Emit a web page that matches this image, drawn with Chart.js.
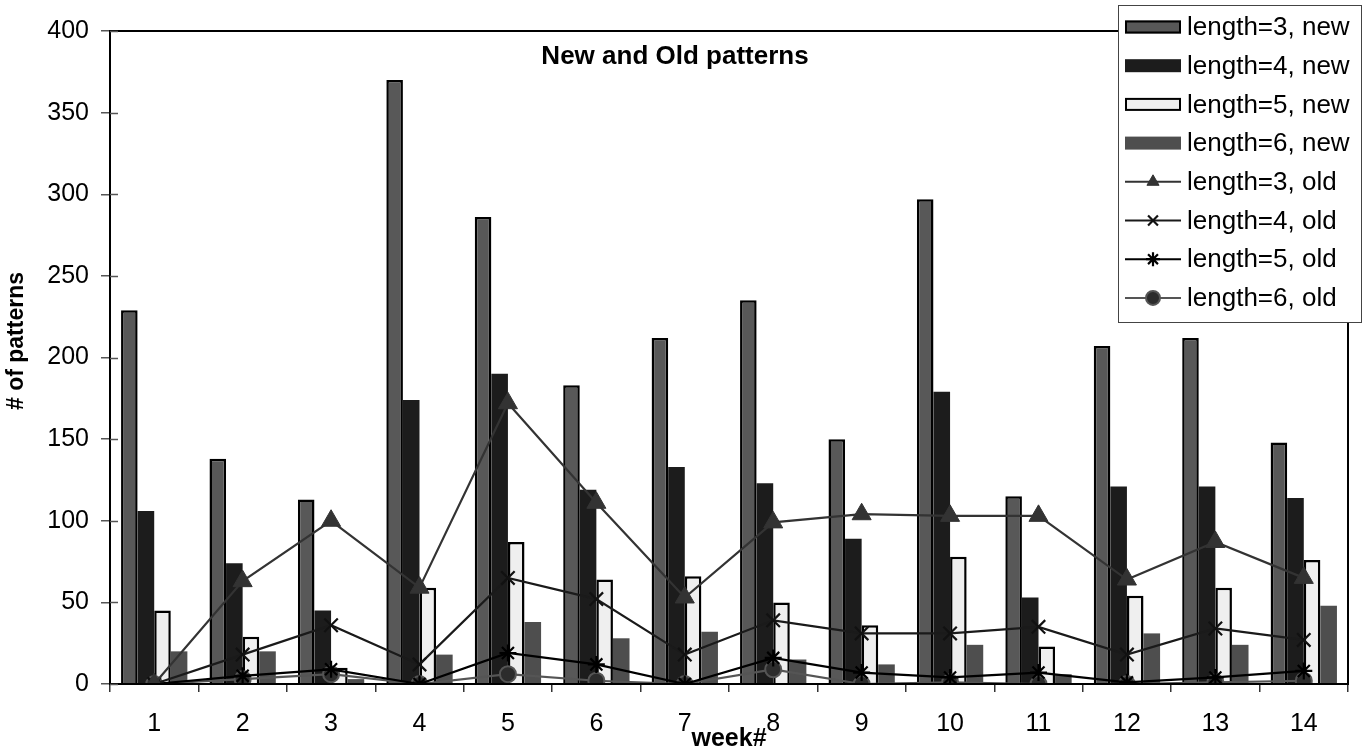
<!DOCTYPE html>
<html>
<head>
<meta charset="utf-8">
<title>New and Old patterns</title>
<script src="https://cdn.jsdelivr.net/npm/chart.js@4.4.0/dist/chart.umd.min.js"></script>
<style>
    html, body { margin: 0; padding: 0; background: #fff; }
    #wrap { width: 1369px; height: 754px; }
</style>
</head>
<body>
<div id="wrap"><canvas id="patternChart" width="1369" height="754"></canvas></div>
<script>
// week labels on the x axis
const weeks = ['1', '2', '3', '4', '5', '6', '7', '8', '9', '10', '11', '12', '13', '14'];
const yTicks = [0, 50, 100, 150, 200, 250, 300, 350, 400];

// new patterns (bars)
const len3New = [229, 138, 113, 370, 286, 183, 212, 235, 150, 297, 115, 207, 212, 148];
const len4New = [106, 74, 45, 174, 190, 119, 133, 123, 89, 179, 53, 121, 121, 114];
const len5New = [45, 29, 10, 59, 87, 64, 66, 50, 36, 78, 23, 54, 59, 76];
const len6New = [20, 20, 3, 18, 38, 28, 32, 15, 12, 24, 6, 31, 24, 48];

// old patterns (lines)
const len3Old = [0, 63, 100, 59, 172, 111, 53, 99, 104, 103, 103, 64, 87, 65];
const len4Old = [0, 18, 36, 12, 65, 52, 18, 39, 31, 31, 35, 18, 34, 27];
const len5Old = [0, 5, 9, 0, 19, 12, 0, 16, 7, 4, 7, 1, 4, 8];
const len6Old = [0, 3, 6, 0, 6, 2, 0, 9, 0, 1, 0, 0, 1, 2];

const FONT = '"Liberation Sans", Arial, Helvetica, sans-serif';

function barSet(label, data, fill, border, bw) {
    return {
        type: 'bar', label, data, order: 1,
        backgroundColor: fill, borderColor: border, borderWidth: bw,
        categoryPercentage: 0.75, barPercentage: 1.0
    };
}

function lineSet(label, data, color, style, radius, pointFill, pointBorder, pbw) {
    return {
        type: 'line', label, data, order: 0,
        borderColor: color, borderWidth: 2.2, fill: false, tension: 0,
        pointStyle: style, pointRadius: radius, pointHoverRadius: radius,
        pointBackgroundColor: pointFill, pointBorderColor: pointBorder, pointBorderWidth: pbw
    };
}

// frame around the plot, inner tick marks, chart title and y title
const plotFrame = {
    id: 'plotFrame',
    afterDatasetsDraw(chart) {
        const { ctx, chartArea: a, scales } = chart;
        ctx.save();
        ctx.strokeStyle = '#000';
        ctx.lineWidth = 2;
        ctx.strokeRect(a.left, a.top, a.right - a.left, a.bottom - a.top);
        ctx.strokeStyle = '#555';
        ctx.lineWidth = 1.5;
        scales.y.ticks.forEach(t => {
            const py = Math.round(scales.y.getPixelForValue(t.value)) + 0.5;
            ctx.beginPath();
            ctx.moveTo(a.left, py);
            ctx.lineTo(a.left + 8, py);
            ctx.stroke();
        });
        ctx.fillStyle = '#000';
        ctx.font = 'bold 26px ' + FONT;
        ctx.textAlign = 'center';
        ctx.textBaseline = 'middle';
        ctx.fillText('New and Old patterns', 675, 57);

        ctx.translate(17, 341);
        ctx.rotate(-Math.PI / 2);
        ctx.font = 'bold 23px ' + FONT;
        ctx.fillText('# of patterns', 0, 0);
        ctx.restore();
    }
};

// legend box drawn over the top right corner of the plot
const legendBox = {
    id: 'legendBox',
    afterDraw(chart) {
        const ctx = chart.ctx;
        const bx = 1118, by = 5, bw = 243, bh = 317;
        ctx.save();
        ctx.fillStyle = '#fff';
        ctx.fillRect(bx, by, bw, bh);
        ctx.strokeStyle = '#444';
        ctx.lineWidth = 1;
        ctx.strokeRect(bx + 0.5, by + 0.5, bw, bh);

        chart.data.datasets.forEach((ds, i) => {
            const y = 27 + i * 38.7;
            if (ds.type === 'line') {
                ctx.strokeStyle = ds.borderColor;
                ctx.lineWidth = 2;
                ctx.beginPath();
                ctx.moveTo(1125, y);
                ctx.lineTo(1181, y);
                ctx.stroke();
                ctx.fillStyle = ds.pointBackgroundColor;
                ctx.strokeStyle = ds.pointBorderColor;
                ctx.lineWidth = ds.pointBorderWidth;
                Chart.helpers.drawPoint(ctx, {
                    pointStyle: ds.pointStyle, rotation: 0,
                    radius: Math.min(ds.pointRadius, 7), borderWidth: ds.pointBorderWidth
                }, 1153, y);
            } else {
                ctx.fillStyle = ds.backgroundColor;
                ctx.fillRect(1125, y - 6.5, 56, 13);
                if (ds.borderWidth > 0) {
                    ctx.strokeStyle = ds.borderColor;
                    ctx.lineWidth = 2;
                    ctx.strokeRect(1126, y - 5.5, 54, 11);
                }
            }
            ctx.fillStyle = '#000';
            ctx.font = '26px ' + FONT;
            ctx.textAlign = 'left';
            ctx.textBaseline = 'middle';
            ctx.fillText(ds.label, 1187, y + 1);
        });
        ctx.restore();
    }
};

const ctx = document.getElementById('patternChart').getContext('2d');
new Chart(ctx, {
    data: {
        labels: weeks,
        datasets: [
            barSet('length=3, new', len3New, '#585858', '#000', 2.5),
            barSet('length=4, new', len4New, '#1c1c1c', '#1c1c1c', 0),
            barSet('length=5, new', len5New, '#efefef', '#000', 2.5),
            barSet('length=6, new', len6New, '#4e4e4e', '#4e4e4e', 0),
            lineSet('length=3, old', len3Old, '#333', 'triangle', 11, '#333', '#333', 1),
            lineSet('length=4, old', len4Old, '#1a1a1a', 'crossRot', 9.5, '#111', '#111', 2.2),
            lineSet('length=5, old', len5Old, '#000', 'star', 8.5, '#000', '#000', 2.2),
            lineSet('length=6, old', len6Old, '#555', 'circle', 8, '#2c2c2c', '#555', 2)
        ]
    },
    options: {
        responsive: false,
        animation: false,
        devicePixelRatio: 1,
        layout: { padding: { top: 31, right: 21, left: 0, bottom: 0 } },
        plugins: {
            legend: { display: false },
            title: { display: false },
            tooltip: { enabled: false }
        },
        scales: {
            x: {
                type: 'category',
                offset: true,
                grid: { display: true, drawOnChartArea: false, drawTicks: true, tickLength: 8, offset: true, color: '#333', lineWidth: 1.5 },
                border: { display: true, color: '#000', width: 2 },
                ticks: { color: '#000', font: { family: FONT, size: 25 }, padding: 17, maxRotation: 0 },
                title: { display: true, text: 'week#', color: '#000', font: { family: FONT, size: 25, weight: 'bold' }, padding: 0 },
                afterFit(scale) { scale.height = 70; }
            },
            y: {
                min: 0, max: 400,
                afterBuildTicks(scale) { scale.ticks = yTicks.map(v => ({ value: v })); },
                grid: { display: true, drawOnChartArea: false, drawTicks: true, tickLength: 9, color: '#555', lineWidth: 1.5 },
                border: { display: true, color: '#000', width: 2 },
                ticks: { color: '#000', font: { family: FONT, size: 25 }, padding: 12 },
                afterFit(scale) { scale.width = 110; }
            }
        }
    },
    plugins: [plotFrame, legendBox]
});
</script>
</body>
</html>
